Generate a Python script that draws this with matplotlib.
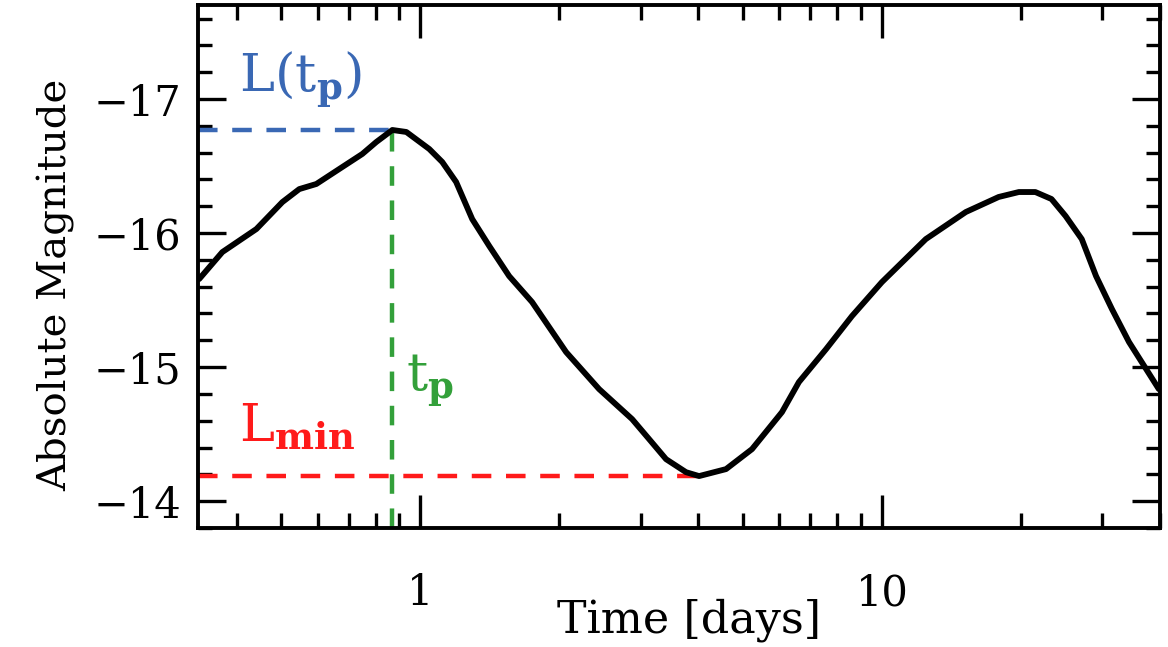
import numpy as np
import matplotlib.pyplot as plt
from matplotlib.ticker import LogLocator, NullFormatter, FixedLocator, FixedFormatter, MultipleLocator

# light curve
time_days = [0.332, 0.3726, 0.4416, 0.5027, 0.547, 0.5955, 0.6678, 0.749, 0.803, 0.870,
             0.933, 1.046, 1.116, 1.196, 1.296, 1.411, 1.558, 1.747, 2.07, 2.44,
             2.877, 3.131, 3.408, 3.765, 4.018, 4.596, 5.232, 6.075, 6.61, 7.57,
             8.61, 10.0, 12.45, 15.2, 17.9, 19.8, 21.5, 23.3, 25.0, 27.1,
             29.1, 31.5, 34.3, 39.8]
abs_mag = [-15.657, -15.858, -16.03, -16.231, -16.328, -16.366, -16.478, -16.59, -16.679, -16.769,
           -16.754, -16.627, -16.53, -16.381, -16.104, -15.903, -15.679, -15.485, -15.112, -14.836,
           -14.612, -14.463, -14.313, -14.216, -14.187, -14.239, -14.388, -14.664, -14.888, -15.134,
           -15.38, -15.634, -15.955, -16.157, -16.269, -16.306, -16.306, -16.254, -16.127, -15.955,
           -15.679, -15.433, -15.187, -14.836]

t_peak = 0.870
L_peak = -16.769
t_min = 4.018
L_min = -14.187

plt.rcParams['mathtext.fontset'] = 'dejavuserif'
plt.rcParams['font.family'] = 'DejaVu Serif'

fig = plt.figure(figsize=(11.68, 6.47), dpi=100)
ax = fig.add_axes([0.1695, 0.184, 0.8235, 0.808])

ax.plot(time_days, abs_mag, color='black', lw=4.2, solid_capstyle='round',
        solid_joinstyle='round', zorder=5)

dash = (0, (4.4, 3.3))
ax.plot([0.33, t_peak], [L_peak, L_peak], color='#3a68b4', lw=3.2, linestyle=dash)
ax.plot([t_peak, t_peak], [-13.8, L_peak], color='#33a03a', lw=3.2, linestyle=dash)
ax.plot([0.33, t_min], [L_min, L_min], color='#ff1a1a', lw=3.2, linestyle=dash)

ax.text(0.405, -17.14, r'$\mathrm{L(t_{\mathbf{p}})}$', color='#3a68b4', fontsize=38,
        ha='left', va='center')
ax.text(0.93, -14.9, r'$\mathrm{t_{\mathbf{p}}}$', color='#33a03a', fontsize=38,
        ha='left', va='center')
ax.text(0.405, -14.55, r'$\mathrm{L_{\mathbf{min}}}$', color='#ff1a1a', fontsize=38,
        ha='left', va='center')

ax.set_xscale('log')
ax.set_xlim(0.33, 40)
ax.set_ylim(-13.8, -17.7)

ax.xaxis.set_major_locator(FixedLocator([1, 10]))
ax.xaxis.set_major_formatter(FixedFormatter(['1', '10']))
ax.xaxis.set_minor_locator(LogLocator(base=10, subs=np.arange(2, 10)))
ax.xaxis.set_minor_formatter(NullFormatter())
ax.yaxis.set_minor_locator(MultipleLocator(0.2))
ax.set_yticks([-17, -16, -15, -14])
ax.set_yticklabels(['\u221217', '\u221216', '\u221215', '\u221214'])

ax.tick_params(which='both', direction='in', top=True, right=True, width=2.4, labelsize=30)
ax.tick_params(axis='x', which='major', length=24, pad=32)
ax.tick_params(axis='x', which='minor', length=11)
ax.tick_params(axis='y', which='major', length=20, pad=12)
ax.tick_params(axis='y', which='minor', length=10)
for s in ax.spines.values():
    s.set_linewidth(2.8)

ax.set_xlabel('Time [days]', fontsize=32)
ax.xaxis.set_label_coords(0.511, -0.135)
ax.set_ylabel('Absolute Magnitude', fontsize=29)
ax.yaxis.set_label_coords(-0.128, 0.465)

fig.savefig('out.png', dpi=100)
